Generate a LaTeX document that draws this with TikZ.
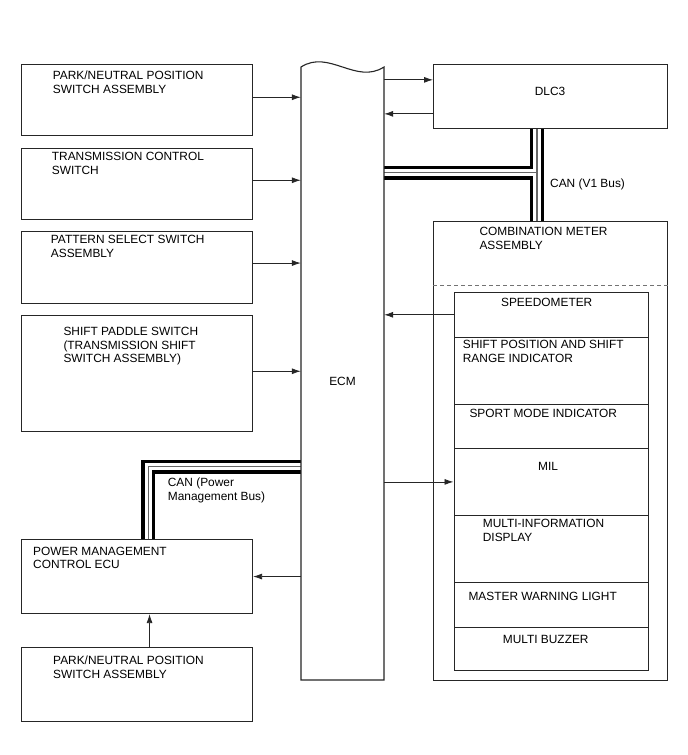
\documentclass[tikz,border=0pt]{standalone}
\usepackage{fontspec}
\setmainfont{Liberation Sans}
\usetikzlibrary{arrows.meta,backgrounds}
\begin{document}
\begin{tikzpicture}[x=1pt,y=-1pt,
  box/.style={draw=black!85, line width=1.1pt, inner sep=0pt, anchor=north west},
  boxline/.style={draw=black!85, line width=1.1pt},
  txt/.style={inner sep=0pt, anchor=north west, align=left, font=\fontsize{11.9}{13.8}\selectfont},
  ctxt/.style={inner sep=0pt, anchor=north, align=center, font=\fontsize{11.9}{13.8}\selectfont},
  arr/.style={draw=black!85, line width=0.8pt, -{Latex[length=9pt,width=6pt]}},
  busA/.style={line width=14pt, draw=black, line cap=butt},
  busB/.style={line width=7.5pt, draw=white, line cap=butt},
  busC/.style={line width=1.2pt, draw=black!60, line cap=butt},
]
\useasboundingbox (0,0) rectangle (688,755);

% left column boxes
\node[box, minimum width=231pt, minimum height=71pt] (pn1) at (21,64) {};
\node[box, minimum width=231pt, minimum height=71pt] (tcs) at (21,148) {};
\node[box, minimum width=231pt, minimum height=72pt] (pss) at (21,231) {};
\node[box, minimum width=231pt, minimum height=116pt] (spd) at (21,315) {};
\node[box, minimum width=231pt, minimum height=74pt] (pm) at (21,539) {};
\node[box, minimum width=231pt, minimum height=74pt] (pn2) at (21,647) {};

\node[txt] (t1) at (52.7,70.7) {PARK/NEUTRAL POSITION\\SWITCH ASSEMBLY};
\node[txt] (t2) at (51.7,151.7) {TRANSMISSION CONTROL\\SWITCH};
\node[txt] (t3) at (50.7,235) {PATTERN SELECT SWITCH\\ASSEMBLY};
\node[txt] (t4) at (63.3,326.7) {SHIFT PADDLE SWITCH\\(TRANSMISSION SHIFT\\SWITCH ASSEMBLY)};
\node[txt] (t5) at (33,546.5) {POWER MANAGEMENT\\CONTROL ECU};
\node[txt] (t6) at (53,655.5) {PARK/NEUTRAL POSITION\\SWITCH ASSEMBLY};
\node[txt] (t7) at (167.7,477.7) {CAN (Power\\Management Bus)};

% ECM
\node[inner sep=0pt, minimum width=83pt, minimum height=598pt, font=\fontsize{11.9}{13.8}\selectfont] (ecm) at (342.5,381) {ECM};
\draw[boxline] (301,680) -- (301,67) .. controls (329,49) and (356,85) .. (384,67) -- (384,680) -- cycle;

% DLC3
\node[box, minimum width=234pt, minimum height=64pt] (dlc) at (433,64) {};
\node[ctxt] (tdlc) at (550,87) {DLC3};

% combination meter
\node[box, minimum width=234pt, minimum height=459pt] (cm) at (433,220.5) {};
\node[txt] (tcm) at (479.3,226.7) {COMBINATION METER\\ASSEMBLY};
\draw[draw=black!55, line width=1pt, dash pattern=on 4pt off 3pt] (cm.west |- 0,285.7) -- (cm.east |- 0,285.7);
\node[txt] (tcan) at (550,179) {CAN (V1 Bus)};

\node[box, minimum width=194pt, minimum height=44.5pt] (sp) at (453.5,292) {};
\node[box, minimum width=194pt, minimum height=67.2pt] (sh) at (453.5,336.5) {};
\node[box, minimum width=194pt, minimum height=44pt] (sm) at (453.5,403.7) {};
\node[box, minimum width=194pt, minimum height=67.3pt] (mil) at (453.5,447.7) {};
\node[box, minimum width=194pt, minimum height=67.3pt] (mid) at (453.5,515) {};
\node[box, minimum width=194pt, minimum height=44.4pt] (mw) at (453.5,582.3) {};
\node[box, minimum width=194pt, minimum height=43.3pt] (mb) at (453.5,626.7) {};

\node[ctxt] (tsp) at (546.7,298.3) {SPEEDOMETER};
\node[txt] (tsh) at (462.7,340) {SHIFT POSITION AND SHIFT\\RANGE INDICATOR};
\node[txt] (tsm) at (469.3,409) {SPORT MODE INDICATOR};
\node[ctxt] (tmil) at (548,461.7) {MIL};
\node[txt] (tmid) at (482.7,519) {MULTI-INFORMATION\\DISPLAY};
\node[txt] (tmw) at (468.3,591.7) {MASTER WARNING LIGHT};
\node[ctxt] (tmb) at (545.7,635) {MULTI BUZZER};

% arrows
\draw[arr] ([yshift=2.8pt]pn1.east) -- ([yshift=2.8pt]pn1.east -| ecm.west);
\draw[arr] ([yshift=3.8pt]tcs.east) -- ([yshift=3.8pt]tcs.east -| ecm.west);
\draw[arr] ([yshift=4.5pt]pss.east) -- ([yshift=4.5pt]pss.east -| ecm.west);
\draw[arr] ([yshift=2.3pt]spd.east) -- ([yshift=2.3pt]spd.east -| ecm.west);
\draw[arr] ([yshift=16.7pt]dlc.west -| ecm.east) -- ([yshift=16.7pt]dlc.west);
\draw[arr] ([yshift=-17.3pt]dlc.west) -- ([yshift=-17.3pt]dlc.west -| ecm.east);
\draw[arr] (sp.west) -- (sp.west -| ecm.east);
\draw[arr] (mil.west -| ecm.east) -- (mil.west);
\draw[arr] (pm.east -| ecm.west) -- (pm.east);
\draw[arr] ([xshift=12.5pt]pn2.north) -- ([xshift=12.5pt]pm.south);

% CAN buses
\coordinate (v1x) at (537,172.7);
\coordinate (pwx) at (148.3,466.5);
\begin{scope}[on background layer]
  \fill[white] (0,0) rectangle (688,755);
  \foreach \s in {busA,busB,busC}{
    \draw[\s] (ecm.east |- v1x) -- (v1x);
    \draw[\s] (v1x |- dlc.south) -- (v1x |- cm.north);
    \draw[\s, line join=miter] (ecm.west |- pwx) -- (pwx) -- (pwx |- pm.north);
  }
\end{scope}
\end{tikzpicture}
\end{document}
